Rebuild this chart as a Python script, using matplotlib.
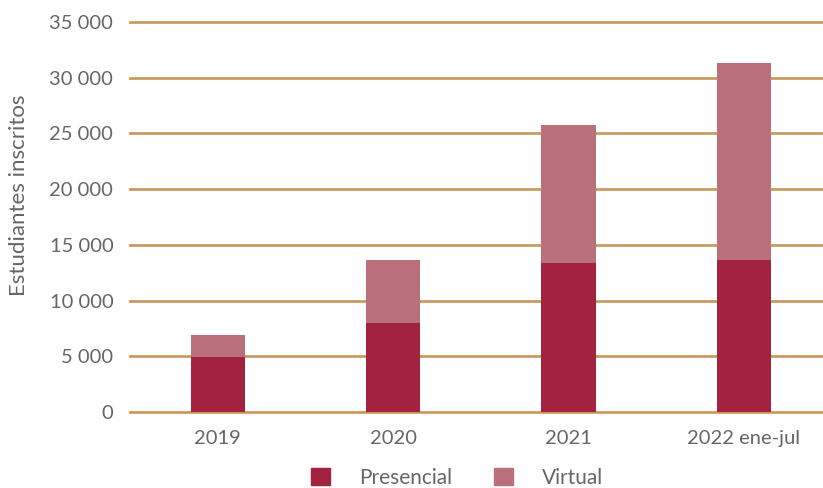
import matplotlib
matplotlib.use("Agg")
import matplotlib.pyplot as plt
from matplotlib.patches import Patch

categories = ["2019", "2020", "2021", "2022 ene-jul"]
presencial = [4900, 7950, 13400, 13600]
virtual = [2000, 5650, 12350, 17700]
yticks = [0, 5000, 10000, 15000, 20000, 25000, 30000, 35000]
ytick_labels = ["0", "5 000", "10 000", "15 000", "20 000", "25 000", "30 000", "35 000"]

c_pres = "#A32240"
c_virt = "#B9707B"
grid_c = "#C8955A"
txt_c = "#666666"

plt.rcParams['font.family'] = ['Lato', 'DejaVu Sans']

fig = plt.figure(figsize=(8.23, 4.88), dpi=100)
ax = fig.add_axes([130/823, 1-412/488, 693/823, 390/488])

x = list(range(len(categories)))
w = 0.31
ax.bar(x, presencial, width=w, color=c_pres, zorder=3, label="Presencial")
ax.bar(x, virtual, width=w, bottom=presencial, color=c_virt, zorder=3, label="Virtual")

ax.set_ylim(0, 35000)
ax.set_xlim(-0.5, 3.45)
ax.set_yticks(yticks)
ax.set_yticklabels(ytick_labels)
ax.set_xticks(x)
ax.set_xticklabels(categories)
for yv in yticks:
    ax.axhline(yv, color=grid_c, lw=1.9, zorder=1, clip_on=False)
for s in ax.spines.values():
    s.set_visible(False)
ax.tick_params(axis='both', length=0, labelsize=14.5, colors=txt_c)
ax.tick_params(axis='y', pad=12)
ax.tick_params(axis='x', pad=13)

fig.text(19/823, 1-195/488, "Estudiantes inscritos", rotation=90, ha='center', va='center',
         fontsize=16, color=txt_c)

handles = [Patch(color=c_pres), Patch(color=c_virt)]
fig.legend(handles, ["Presencial", "Virtual"], loc='center', bbox_to_anchor=(457/823, 1-478/488),
           ncol=2, frameon=False, fontsize=15, labelcolor=txt_c, handlelength=0.9, handleheight=0.9,
           handletextpad=1.4, columnspacing=2.0)

fig.savefig("out.png", dpi=100)
